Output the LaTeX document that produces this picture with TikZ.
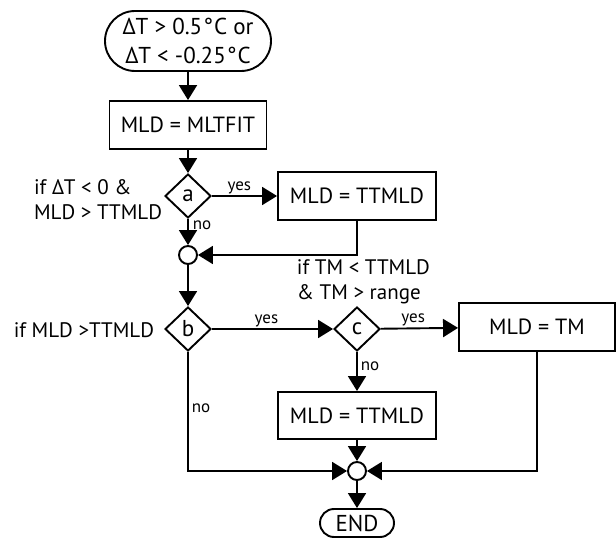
\documentclass[tikz,border=0pt]{standalone}
\usepackage{fontspec}
\setmainfont{PT Sans}
\usetikzlibrary{arrows.meta,shapes.geometric,shapes.misc}
\begin{document}
\begin{tikzpicture}[x=1pt,y=-1pt,line width=1.9pt,
  >={Triangle[width=18pt,length=15pt]},
  box/.style={draw,rectangle,inner sep=0pt,minimum width=158pt,minimum height=48pt,font=\fontsize{22}{25}\selectfont},
  term/.style={draw,rounded rectangle,inner sep=0pt,align=center,font=\fontsize{23}{29}\selectfont},
  dia/.style={draw,diamond,inner sep=0pt,minimum width=46pt,minimum height=44pt,font=\fontsize{23}{26}\selectfont},
  jn/.style={draw,circle,inner sep=0pt,minimum size=18pt},
  lbl/.style={inner sep=1pt,font=\fontsize{17}{19}\selectfont},
  cond/.style={inner sep=0pt,align=left,font=\fontsize{21}{25}\selectfont}]
\useasboundingbox (0,0) rectangle (616,540);
\node[term,minimum width=166pt,minimum height=60pt] (start) at (188,41) {ΔT > 0.5\kern1pt°\kern1pt C or\\ΔT < -0.25\kern1pt°\kern1pt C};
\node[box,minimum width=157pt] (b1) at (188,125) {MLD = MLTFIT};
\node[dia] (a) at (188,196) {a};
\node[box] (t1) at (357,196) {MLD = TTMLD};
\node[jn] (j1) at (188,255) {};
\node[dia] (b) at (188,329) {b};
\node[dia] (c) at (357,329) {c};
\node[box,minimum width=156pt] (tm) at (537,327) {MLD = TM};
\node[box,minimum height=47pt] (t2) at (357,415.5) {MLD = TTMLD};
\node[jn] (j2) at (357,471) {};
\node[term,minimum width=74pt,minimum height=28pt] (end) at (357,523) {END};
\node[cond,anchor=east] (la) at (163,200) {if ΔT < 0 \&\\MLD > TTMLD};
\node[cond,anchor=east] (lb) at (155,330) {if MLD >TTMLD};
\node[cond,anchor=west] (lc) at (296,282) {if TM < TTMLD\\\& TM > range};
\draw[->] (start) -- (b1);
\draw[->] (b1) -- (a);
\draw[->] (a) -- node[lbl,above,pos=.42] (ya) {yes} (t1);
\draw[->] (a) -- (j1);
\node[lbl] (na) at (202,225) {no};
\draw[->] (t1.south) |- (j1.east);
\draw[->] (j1) -- (b);
\draw[->] (b) -- node[lbl,above,pos=.45] (yb) {yes} (c);
\draw[->] (c) -- node[lbl,above,pos=.42] (yc) {yes} (tm);
\draw[->] (c) -- (t2);
\node[lbl] (nc) at (370,366) {no};
\draw[->] (b.south) |- (j2.west);
\node[lbl] (nb) at (201,408) {no};
\draw[->] (t2) -- (j2);
\draw[->] (tm.south) |- (j2.east);
\draw[->] (j2) -- (end);
\end{tikzpicture}
\end{document}
